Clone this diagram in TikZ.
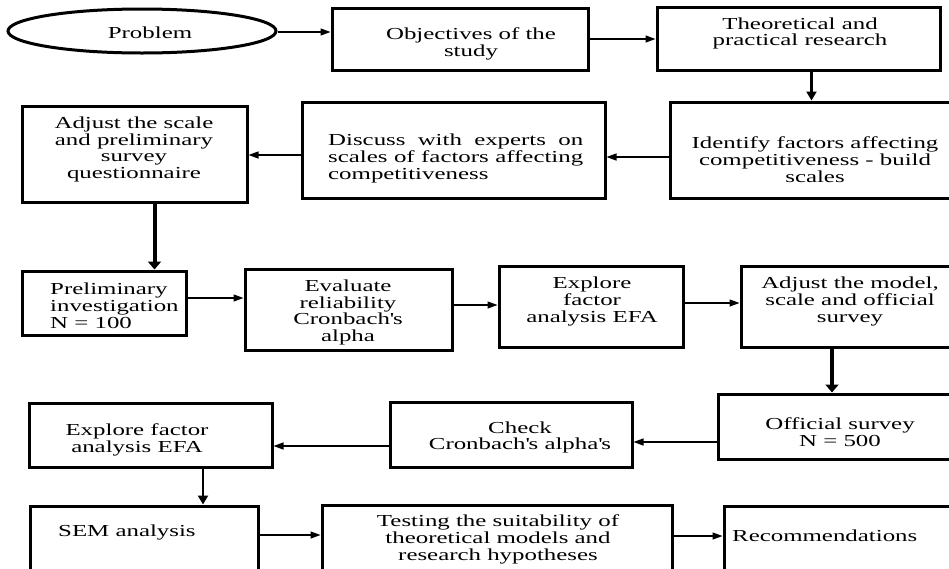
\documentclass[tikz,border=0pt]{standalone}
\usepackage{fontspec}
\setmainfont{Liberation Serif}[FakeStretch=1.48]
\usetikzlibrary{arrows.meta,fit,shapes.geometric}
\tikzset{
  stepbox/.style={draw, line width=3pt, inner sep=0pt},
  steptxt/.style={font=\fontsize{16.8}{16.8}\selectfont, align=center, inner sep=0pt, yshift=-2.5pt},
  arr/.style={line width=1.3pt, -{Triangle[length=10pt,width=7pt]}},
  arrmid/.style={line width=2.2pt, -{Triangle[length=9pt,width=10pt]}},
  arrbig/.style={line width=4pt, -{Triangle[length=8pt,width=13pt]}}
}
\newcommand{\apos}{\textquotesingle}
\begin{document}
\begin{tikzpicture}[x=1pt,y=-1pt]
\useasboundingbox (0,0) rectangle (949,568);
\clip (0,0) rectangle (949,568);

\node[ellipse, draw, line width=3pt, minimum width=268pt, minimum height=44pt] (prob) at (142,31) {};
\node[steptxt] (probt) at (150,30) {Problem};

\node[stepbox, fit={(332,8) (588,70)}] (obj) {};
\node[steptxt] (objt) at (471,41) {Objectives of the\\study};

\node[stepbox, fit={(657,7) (940,70)}] (theo) {};
\node[steptxt] (theot) at (800,31) {Theoretical and\\practical research};

\node[stepbox, fit={(670,102) (962,198)}] (iden) {};
\node[steptxt] (ident) at (815,157) {Identify factors affecting\\competitiveness - build\\scales};

\node[stepbox, fit={(302,102) (605,198)}] (disc) {};
\node[steptxt, anchor=west, text width=255pt, align=left] (disct) at (328,156)
  {\makebox[255pt]{Discuss\hfill with\hfill experts\hfill on}\\\makebox[255pt]{scales\hfill of\hfill factors\hfill affecting}\\competitiveness};

\node[stepbox, fit={(22,106) (247,202)}] (adj) {};
\node[steptxt] (adjt) at (134,147) {Adjust the scale\\and preliminary\\survey\\questionnaire};

\node[stepbox, fit={(22,271) (186,335)}] (prel) {};
\node[steptxt, anchor=west, align=left] (prelt) at (50,303) {Preliminary\\investigation\\N = 100};

\node[stepbox, fit={(245,269) (452,350)}] (eval) {};
\node[steptxt] (evalt) at (348,310) {Evaluate\\reliability\\Cronbach\apos s\\alpha};

\node[stepbox, fit={(499,266) (683,347)}] (expl) {};
\node[steptxt] (explt) at (592,299) {Explore\\factor\\analysis EFA};

\node[stepbox, fit={(741,266) (962,347)}] (admod) {};
\node[steptxt] (admodt) at (850,299) {Adjust the model,\\scale and official\\survey};

\node[stepbox, fit={(718,394) (962,459)}] (offi) {};
\node[steptxt] (offit) at (840,430) {Official survey\\N = 500};

\node[stepbox, fit={(390,402) (632,467)}] (chk) {};
\node[steptxt] (chkt) at (520,435) {Check\\Cronbach\apos s alpha\apos s};

\node[stepbox, fit={(29,403) (272,467)}] (expl2) {};
\node[steptxt] (expl2t) at (137,437) {Explore factor\\analysis EFA};

\node[stepbox, fit={(30,506) (258,585)}] (sem) {};
\node[steptxt, anchor=west] (semt) at (58,530) {SEM analysis};

\node[stepbox, fit={(322,505) (672,585)}] (test) {};
\node[steptxt] (testt) at (498,537) {Testing the suitability of\\theoretical models and\\research hypotheses};

\node[stepbox, fit={(724,506) (962,585)}] (rec) {};
\node[steptxt, anchor=west] (rect) at (732,533) {Recommendations};

\draw[arr] ([yshift=-1pt]prob.east) -- ([yshift=-1pt]prob.east -| obj.west);
\draw[arr] (obj.east) -- (obj.east -| theo.west);
\draw[arrmid] ([xshift=13pt]theo.south) -- ([xshift=13pt]theo.south |- iden.north);
\draw[arr] ([yshift=-7pt]iden.west) -- ([yshift=-7pt]iden.west -| disc.east);
\draw[arr] ([yshift=-5pt]disc.west) -- ([yshift=-5pt]disc.west -| adj.east);
\draw[arrbig] ([xshift=20pt]adj.south) -- ([xshift=20pt]adj.south |- prel.north);

\draw[arr] ([yshift=5pt]prel.east) -- ([yshift=5pt]prel.east -| eval.west);
\draw[arr] ([yshift=4.5pt]eval.east) -- ([yshift=4.5pt]eval.east -| expl.west);
\draw[arr] ([yshift=3.5pt]expl.east) -- ([yshift=3.5pt]expl.east -| admod.west);
\draw[arrbig] ([xshift=-19.5pt]admod.south) -- ([xshift=-19.5pt]admod.south |- offi.north);

\draw[arr] ([yshift=-15.5pt]offi.west) -- ([yshift=-15.5pt]offi.west -| chk.east);
\draw[arr] ([yshift=-11.5pt]chk.west) -- ([yshift=-11.5pt]chk.west -| expl2.east);
\draw[arrmid] ([xshift=52.5pt]expl2.south) -- ([xshift=52.5pt]expl2.south |- sem.north);

\draw[arr] ([yshift=10.5pt]sem.east) -- ([yshift=10.5pt]sem.east -| test.west);
\draw[arr] ([yshift=9pt]test.east) -- ([yshift=9pt]test.east -| rec.west);

\end{tikzpicture}
\end{document}
